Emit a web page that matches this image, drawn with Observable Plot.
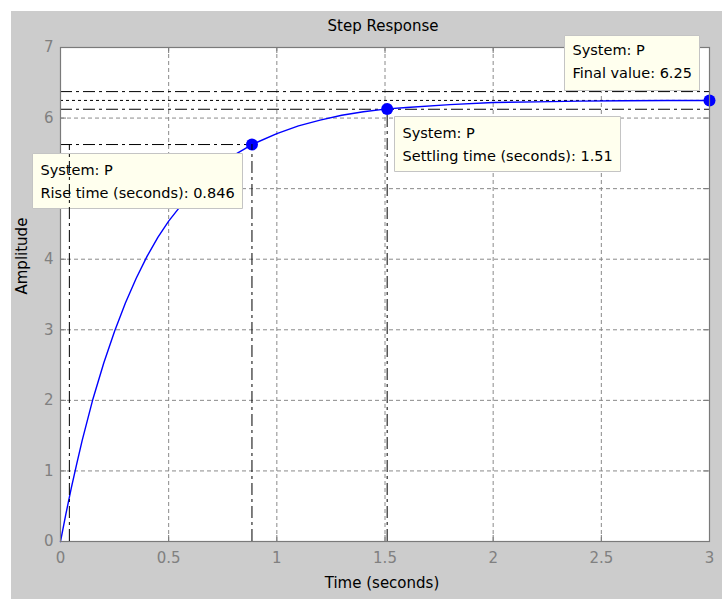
<!DOCTYPE html>
<html><head><meta charset="utf-8">
<script src="https://cdn.jsdelivr.net/npm/d3@7"></script>
<script src="https://cdn.jsdelivr.net/npm/@observablehq/plot@0.6"></script>
<style>
html,body{margin:0;padding:0;background:#fff;}
#chart{position:absolute;left:11px;top:11px;width:711px;height:588px;background:#cccccc;}
#chart svg{display:block;background:transparent;}
</style></head><body><div id="chart"></div>
<script>
// Step response
const timeS     = [0, 0.025, 0.05, 0.075, 0.1, 0.15, 0.2, 0.25, 0.3, 0.35, 0.4, 0.45, 0.5, 0.6, 0.7, 0.8, 0.885, 1.0, 1.1, 1.2, 1.3, 1.4, 1.51, 1.6, 1.8, 2.0, 2.2, 2.4, 2.6, 2.8, 3.0];
const amplitude = [0, 0.39, 0.76, 1.10, 1.43, 2.02, 2.53, 2.98, 3.38, 3.73, 4.04, 4.31, 4.54, 4.93, 5.24, 5.47, 5.625, 5.78, 5.89, 5.97, 6.04, 6.09, 6.13, 6.15, 6.19, 6.22, 6.23, 6.24, 6.245, 6.248, 6.25];

const xTicks = [0, 0.5, 1, 1.5, 2, 2.5, 3];
const yTicks = [0, 1, 2, 3, 4, 5, 6, 7];

const finalValue = [6.25];
const settleBand = [6.125, 6.375];
const riseLevel  = 5.625;
const riseTimes  = [0.041, 0.885];
const settleTime = 1.51;
const settleLevel = 6.13;

const markerT = [0.885, 1.51, 3];
const markerY = [5.625, 6.13, 6.25];

const tipTexts = [
  "System: P\nRise time (seconds): 0.846",
  "System: P\nSettling time (seconds): 1.51",
  "System: P\nFinal value: 6.25"
];

const curve = timeS.map((t, i) => ({t, a: amplitude[i]}));
const markers = markerT.map((t, i) => ({t, a: markerY[i], label: tipTexts[i]}));
const riseVert = riseTimes.map(t => ({t, y1: 0, y2: riseLevel}));
const settleVert = [{t: settleTime, y1: 0, y2: settleLevel}];

const FONT = "DejaVu Sans";
const dashDot = "12,4,3,4";
const gridColor = "#8a8a8a";
const fmt = d => String(d);

const tipStyle = {
  x: "t", y: "a", title: "label",
  fill: "#ffffee", stroke: "#c4c4c4", pointerSize: 0, pathFilter: "none",
  textPadding: 8, lineHeight: 1.6, fontSize: 14.5, fontFamily: FONT
};

const chart = Plot.plot({
  width: 711, height: 588,
  marginLeft: 49, marginRight: 13, marginTop: 36, marginBottom: 58,
  style: {background: "transparent", fontFamily: FONT, fontSize: "14px", color: "black"},
  x: {domain: [0, 3], axis: null},
  y: {domain: [0, 7], axis: null},
  marks: [
    Plot.frame({fill: "white", stroke: null}),
    Plot.gridX(xTicks, {stroke: gridColor, strokeOpacity: 1, strokeDasharray: "4,3"}),
    Plot.gridY(yTicks, {stroke: gridColor, strokeOpacity: 1, strokeDasharray: "4,3"}),
    Plot.tickX(xTicks, {x: d => d, stroke: "#7a7a7a", insetTop: 488}),
    Plot.tickX(xTicks, {x: d => d, stroke: "#7a7a7a", insetBottom: 488}),
    Plot.tickY(yTicks, {y: d => d, stroke: "#7a7a7a", insetRight: 643}),
    Plot.tickY(yTicks, {y: d => d, stroke: "#7a7a7a", insetLeft: 643}),
    // characteristic lines
    Plot.ruleY(settleBand, {y: d => d, x1: 0, x2: 3, stroke: "black", strokeDasharray: dashDot}),
    Plot.ruleY(finalValue, {y: d => d, x1: 0, x2: 3, stroke: "black", strokeDasharray: "3,3"}),
    Plot.ruleY([riseLevel], {y: d => d, x1: 0, x2: riseTimes[1], stroke: "black", strokeDasharray: dashDot}),
    Plot.ruleX(settleVert, {x: "t", y1: "y1", y2: "y2", stroke: "black", strokeDasharray: dashDot}),
    // response
    Plot.line(curve, {x: "t", y: "a", stroke: "#0000ff", strokeWidth: 1.4}),
    Plot.dot(markers, {x: "t", y: "a", r: 6, fill: "#0000ff", stroke: "none"}),
    Plot.frame({stroke: "#7a7a7a", strokeWidth: 1.2}),
    // axes
    Plot.axisX(xTicks, {tickSize: 0, tickPadding: 11, tickFormat: fmt, color: "#808080", fontSize: 15, fontFamily: FONT, label: null}),
    Plot.axisY(yTicks, {tickSize: 0, tickPadding: 7, tickFormat: fmt, color: "#808080", fontSize: 15, fontFamily: FONT, label: null}),
    Plot.text(["Step Response"], {text: d => d, frameAnchor: "top", lineAnchor: "middle", dy: -21, dx: -2, fontSize: 15, fill: "black"}),
    Plot.text(["Time (seconds)"], {text: d => d, frameAnchor: "bottom", lineAnchor: "middle", dy: 42, dx: -3, fontSize: 15, fill: "black"}),
    Plot.text(["Amplitude"], {text: d => d, frameAnchor: "left", dx: -38, rotate: -90, fontSize: 15, fill: "black"}),
    // data tips
    Plot.tip([markers[0]], {...tipStyle, anchor: "top-right", dx: -9, dy: 9}),
    Plot.tip([markers[1]], {...tipStyle, anchor: "top-left", dx: 7, dy: 8}),
    Plot.tip([markers[2]], {...tipStyle, anchor: "bottom-right", dx: -10, dy: -10}),
    // rise-time verticals drawn over the tip, as in the reference
    Plot.ruleX(riseVert, {x: "t", y1: "y1", y2: "y2", stroke: "black", strokeDasharray: dashDot})
  ]
});
document.getElementById("chart").appendChild(chart);
</script></body></html>
